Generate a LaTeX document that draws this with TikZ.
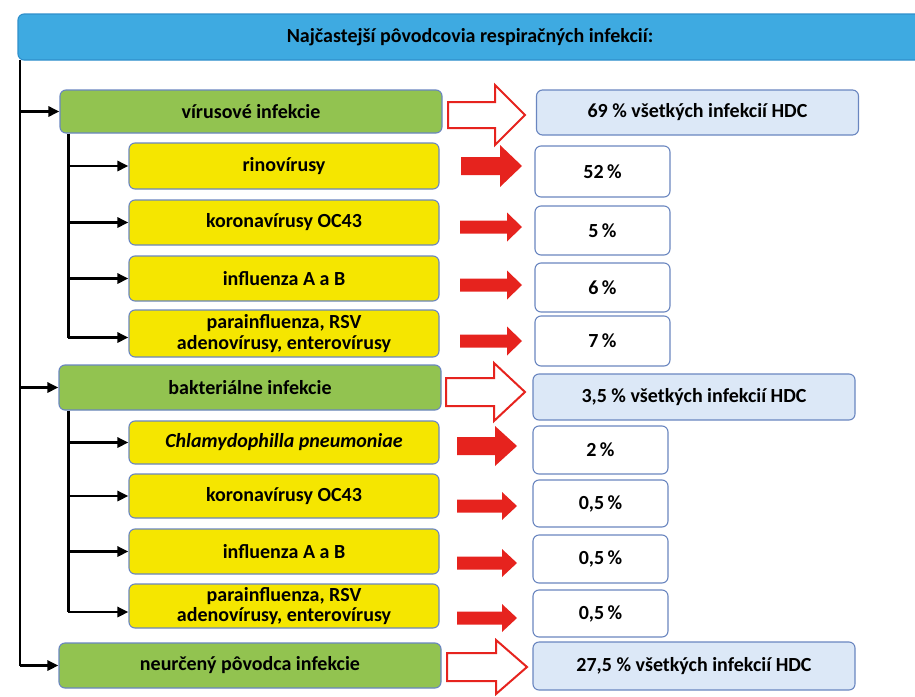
\documentclass[tikz,border=0pt]{standalone}
\usepackage{fontspec}
\setmainfont{Carlito}
\usetikzlibrary{arrows.meta,calc}
\definecolor{titleblue}{HTML}{3EAAE1}
\definecolor{titleborder}{HTML}{2F8FCB}
\definecolor{boxgreen}{HTML}{92C350}
\definecolor{boxyellow}{HTML}{F5E600}
\definecolor{boxlight}{HTML}{DCE8F7}
\definecolor{boxborder}{HTML}{6A86C0}
\definecolor{arrred}{HTML}{E6231E}
\newcommand\blockarr[7]{%
  \draw[#7] ({#1},{#4-#5}) -- ({#2},{#4-#5}) -- ({#2},{#4-#6}) -- ({#3},{#4})
    -- ({#2},{#4+#6}) -- ({#2},{#4+#5}) -- ({#1},{#4+#5}) -- cycle;}
\begin{document}
\begin{tikzpicture}[x=1pt,y=-1pt,
  box/.style={draw=boxborder, line width=1.1pt, rounded corners=6pt, inner sep=0pt,
    align=center, text=black, font=\bfseries\fontsize{20}{20.5}\selectfont},
  gbox/.style={box, fill=boxgreen, minimum width=382pt},
  ybox/.style={box, fill=boxyellow, minimum width=310pt},
  lbox/.style={box, fill=boxlight, minimum width=322pt},
  wbox/.style={box, fill=white, minimum width=135pt},
  conn/.style={line width=2.6pt, black},
  conarr/.style={conn, -{Triangle[length=11pt,width=10pt]}},
  hollow/.style={draw=arrred, fill=white, line width=2pt, line join=miter},
  solid/.style={fill=arrred, draw=none}]
\useasboundingbox (0,0) rectangle (915,696);

% title
\node[box, draw=titleborder, fill=titleblue, minimum width=904pt, minimum height=46pt]
  (t) at (470,37) {Najčastejší pôvodcovia respiračných infekcií:};

% main categories
\node[gbox, minimum height=43pt] (g1) at (251,111.5) {vírusové infekcie};
\node[gbox, minimum height=45pt] (g2) at (250,387.5) {bakteriálne infekcie};
\node[gbox, minimum height=45pt] (g3) at (250,665.5) {neurčený pôvodca infekcie};

% virus sub-items
\node[ybox, minimum height=46pt] (y1) at (284,166) {rinovírusy};
\node[ybox, minimum height=45pt] (y2) at (284,222.5) {koronavírusy OC43};
\node[ybox, minimum height=45pt] (y3) at (284,278.5) {influenza A a B};
\node[ybox, minimum height=47pt] (y4) at (284,333.5) {parainfluenza, RSV\\adenovírusy, enterovírusy};

% bacterial sub-items
\node[ybox, minimum height=43pt] (yb1) at (284,442.5) {\itshape Chlamydophilla pneumoniae};
\node[ybox, minimum height=44pt] (yb2) at (284,496) {koronavírusy OC43};
\node[ybox, minimum height=45pt] (yb3) at (284,551.5) {influenza A a B};
\node[ybox, minimum height=44pt] (yb4) at (284,606) {parainfluenza, RSV\\adenovírusy, enterovírusy};

% totals
\node[lbox, minimum height=45pt] (h1) at (697.5,112.5) {69 \% všetkých infekcií HDC};
\node[lbox, minimum height=46pt] (h2) at (694,397) {3,5 \% všetkých infekcií HDC};
\node[lbox, minimum height=48pt] (h3) at (694,666) {27,5 \% všetkých infekcií HDC};

% percentages
\node[wbox, minimum height=51pt] (w1) at (602.5,171.5) {52\,\%};
\node[wbox, minimum height=49pt] (w2) at (602.5,230.5) {5\,\%};
\node[wbox, minimum height=49pt] (w3) at (602.5,287.5) {6\,\%};
\node[wbox, minimum height=50pt] (w4) at (602.5,341) {7\,\%};
\node[wbox, minimum height=48pt] (wb1) at (600.5,450) {2\,\%};
\node[wbox, minimum height=47pt] (wb2) at (600.5,503.5) {0,5\,\%};
\node[wbox, minimum height=48pt] (wb3) at (600.5,559) {0,5\,\%};
\node[wbox, minimum height=47pt] (wb4) at (600.5,613.5) {0,5\,\%};

% tree connectors
\coordinate (m0) at (20,60);
\draw[conn] (m0) -- (m0 |- g3.west);
\draw[conarr] (m0 |- g1.west) -- (g1.west);
\draw[conarr] (m0 |- g2.west) -- (g2.west);
\draw[conarr] (m0 |- g3.west) -- (g3.west);

\coordinate (s1) at ($(g1.south west)+(9,0)$);
\coordinate (s1e) at ($(y4.west)+(0,4)$);
\draw[conn] (s1) -- (s1 |- s1e);
\draw[conarr] (s1 |- y1.west) -- (y1.west);
\draw[conarr] (s1 |- y2.west) -- (y2.west);
\draw[conarr] (s1 |- y3.west) -- (y3.west);
\draw[conarr] (s1 |- s1e) -- (s1e);

\coordinate (s2) at ($(g2.south west)+(10,0)$);
\coordinate (s2e) at ($(yb4.west)+(0,6)$);
\draw[conn] (s2) -- (s2 |- s2e);
\draw[conarr] (s2 |- yb1.west) -- (yb1.west);
\draw[conarr] (s2 |- yb2.west) -- (yb2.west);
\draw[conarr] (s2 |- yb3.west) -- (yb3.west);
\draw[conarr] (s2 |- s2e) -- (s2e);

% hollow block arrows
\blockarr{448}{495}{525}{115}{13}{30}{hollow}
\blockarr{446}{494}{525}{392}{14}{29}{hollow}
\blockarr{447}{496}{527}{667}{14}{27}{hollow}

% solid block arrows
\blockarr{461}{500}{522}{166}{9}{21}{solid}
\blockarr{460}{507}{522}{227}{6.5}{14.5}{solid}
\blockarr{460}{507}{522}{285}{6.5}{14.5}{solid}
\blockarr{460}{507}{522}{341}{6.5}{14.5}{solid}
\blockarr{457}{495}{517}{446}{9}{20}{solid}
\blockarr{457}{502}{517}{506}{6.5}{14}{solid}
\blockarr{457}{502}{517}{563}{6.5}{14}{solid}
\blockarr{457}{502}{517}{618}{6.5}{14}{solid}
\end{tikzpicture}
\end{document}
